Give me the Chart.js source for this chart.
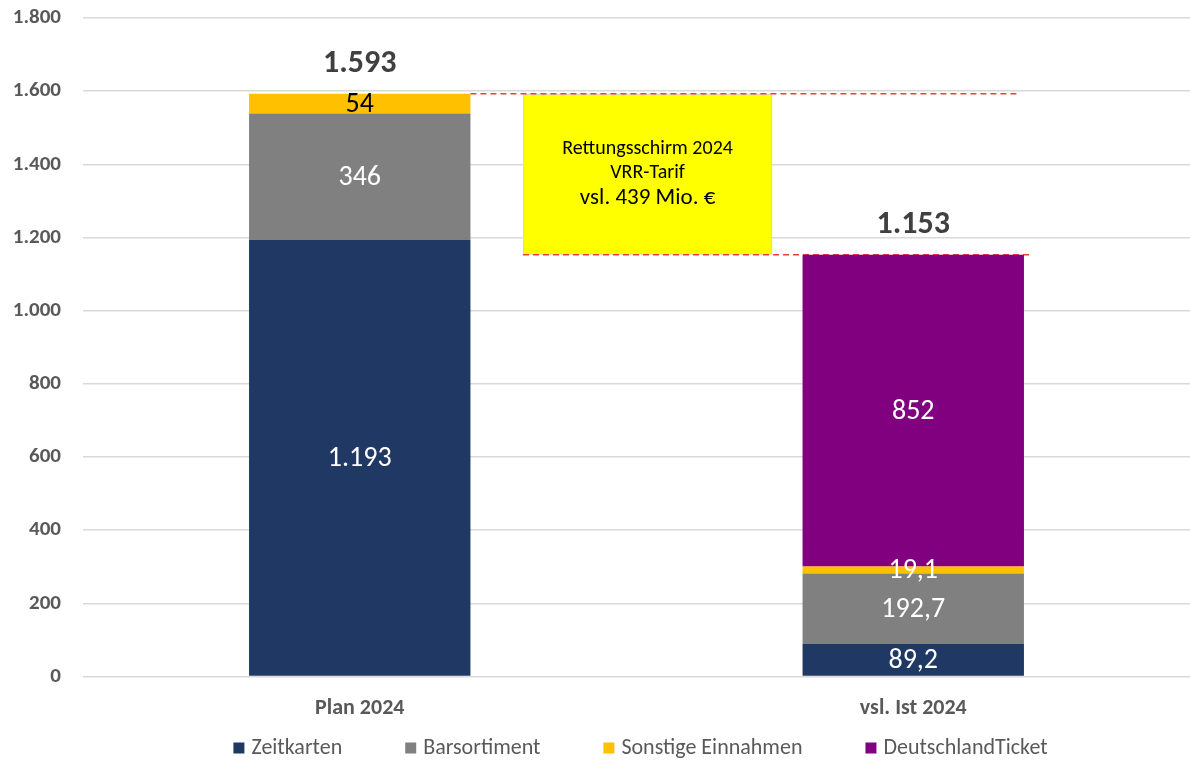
<!DOCTYPE html>
<html>
<head>
<meta charset="utf-8">
<script src="https://cdn.jsdelivr.net/npm/chart.js@4"></script>
<style>
    html, body { margin: 0; padding: 0; background: #ffffff; }
    #container { width: 1190px; height: 761px; }
</style>
</head>
<body>
<div id="container"><canvas id="canvas"></canvas></div>
<script>
    // Werte in Mio. €
    const aCategories = ["Plan 2024", "vsl. Ist 2024"];
    const aZeitkarten = [1193, 89.2];
    const aBarsortiment = [346, 192.7];
    const aSonstige = [54, 19.1];
    const aDeutschlandTicket = [null, 852];
    const aTotals = [1593, 1153];
    const aYTicks = [0, 200, 400, 600, 800, 1000, 1200, 1400, 1600, 1800];
    const aBoxText = ["Rettungsschirm 2024", "VRR-Tarif", "vsl. 439 Mio. €"];

    const sFont = "Carlito, Calibri, Lato, 'Open Sans', sans-serif";

    // Zahl im deutschen Format (1.193 / 89,2)
    function fmt(v) {
        let sInt = String(Math.trunc(v)).replace(/\B(?=(\d{3})+(?!\d))/g, ".");
        let fDec = Math.round((v - Math.trunc(v)) * 10);
        return fDec ? sInt + "," + fDec : sInt;
    }

    // Beschriftungen, Summen, Rettungsschirm-Kasten und Legende
    const oLabelPlugin = {
        id: "labels",
        beforeDatasetsDraw(chart) {
            const ctx = chart.ctx;
            const x = chart.scales.x;
            const y = chart.scales.y;
            let yTop = y.getPixelForValue(aTotals[0]);
            let yBottom = y.getPixelForValue(aTotals[1]);
            let xLeft = x.getPixelForValue(0.295);
            let xRight = x.getPixelForValue(0.745);

            ctx.save();
            ctx.fillStyle = "#ffff00";
            ctx.fillRect(xLeft, yTop, xRight - xLeft, yBottom - yTop);
            ctx.strokeStyle = "#d6d6d6";
            ctx.lineWidth = 1;
            ctx.strokeRect(xLeft + 0.5, yTop + 0.5, xRight - xLeft - 1, yBottom - yTop - 1);

            ctx.fillStyle = "#000000";
            ctx.textAlign = "center";
            ctx.textBaseline = "middle";
            let xMid = (xLeft + xRight) / 2;
            ctx.font = "20px " + sFont;
            ctx.fillText(aBoxText[0], xMid, yTop + 55);
            ctx.fillText(aBoxText[1], xMid, yTop + 79);
            ctx.font = "23px " + sFont;
            ctx.fillText(aBoxText[2], xMid, yTop + 105);

            // gestrichelte Linien
            ctx.strokeStyle = "#e8403a";
            ctx.lineWidth = 1.5;
            ctx.setLineDash([6, 4]);
            ctx.beginPath();
            ctx.moveTo(x.getPixelForValue(0.2), yTop);
            ctx.lineTo(x.getPixelForValue(1.19), yTop);
            ctx.moveTo(xLeft, yBottom);
            ctx.lineTo(x.getPixelForValue(1.21), yBottom);
            ctx.stroke();
            ctx.restore();
        },
        afterDatasetsDraw(chart) {
            const ctx = chart.ctx;
            ctx.save();
            ctx.textAlign = "center";
            ctx.textBaseline = "middle";
            chart.data.datasets.forEach(function (oDs, i) {
                let oMeta = chart.getDatasetMeta(i);
                oMeta.data.forEach(function (oBar, j) {
                    let v = oDs.data[j];
                    if (v === null || v === undefined) {
                        return;
                    }
                    ctx.fillStyle = oDs.labelColors[j];
                    ctx.font = "28px " + sFont;
                    ctx.fillText(fmt(v), oBar.x, (oBar.y + oBar.base) / 2 + 1);
                });
            });

            // Summen
            const x = chart.scales.x;
            const y = chart.scales.y;
            ctx.fillStyle = "#404040";
            ctx.font = "bold 32px " + sFont;
            aTotals.forEach(function (v, j) {
                ctx.fillText(fmt(v), x.getPixelForValue(j), y.getPixelForValue(v) - 30);
            });
            ctx.restore();
        },
        afterDraw(chart) {
            // Legende unten
            const ctx = chart.ctx;
            const iBox = 11;
            const iGap = 7;
            const iSpace = 63;
            ctx.save();
            ctx.font = "22px " + sFont;
            ctx.textBaseline = "middle";
            ctx.textAlign = "left";
            let aWidths = chart.data.datasets.map(oDs => ctx.measureText(oDs.label).width);
            let iTotal = aWidths.reduce((a, b) => a + b, 0) + chart.data.datasets.length * (iBox + iGap) + (chart.data.datasets.length - 1) * iSpace;
            let xPos = (chart.chartArea.left + chart.chartArea.right) / 2 + 4 - iTotal / 2;
            let yPos = 748;
            chart.data.datasets.forEach(function (oDs, i) {
                ctx.fillStyle = oDs.backgroundColor;
                ctx.fillRect(xPos, yPos - iBox / 2, iBox, iBox);
                ctx.fillStyle = "#595959";
                ctx.fillText(oDs.label, xPos + iBox + iGap, yPos);
                xPos += iBox + iGap + aWidths[i] + iSpace;
            });
            ctx.restore();
        }
    };

    const ctx = document.getElementById("canvas").getContext("2d");

    new Chart(ctx, {
        type: "bar",
        data: {
            labels: aCategories,
            datasets: [
                {
                    label: "Zeitkarten",
                    data: aZeitkarten,
                    backgroundColor: "#203864",
                    labelColors: ["#ffffff", "#ffffff"]
                },
                {
                    label: "Barsortiment",
                    data: aBarsortiment,
                    backgroundColor: "#808080",
                    labelColors: ["#ffffff", "#ffffff"]
                },
                {
                    label: "Sonstige Einnahmen",
                    data: aSonstige,
                    backgroundColor: "#ffc000",
                    labelColors: ["#000000", "#ffffff"]
                },
                {
                    label: "DeutschlandTicket",
                    data: aDeutschlandTicket,
                    backgroundColor: "#800080",
                    labelColors: ["#ffffff", "#ffffff"]
                }
            ]
        },
        options: {
            responsive: true,
            maintainAspectRatio: false,
            devicePixelRatio: 1,
            animation: false,
            datasets: {
                bar: {
                    categoryPercentage: 1,
                    barPercentage: 0.4,
                    borderWidth: 0
                }
            },
            layout: {
                padding: { top: 0, right: 0, bottom: 28, left: 0 }
            },
            plugins: {
                tooltip: { enabled: false },
                legend: { display: false }
            },
            scales: {
                x: {
                    stacked: true,
                    grid: { display: false },
                    border: { display: false },
                    ticks: {
                        color: "#595959",
                        padding: 11,
                        font: { size: 22, weight: "bold", family: sFont }
                    }
                },
                y: {
                    stacked: true,
                    min: 0,
                    max: 1800,
                    afterBuildTicks: function (scale) {
                        scale.ticks = aYTicks.map(v => ({ value: v }));
                    },
                    afterFit: function (scale) {
                        scale.width = 83;
                        scale.paddingTop = 18;
                    },
                    grid: {
                        color: "#d9d9d9",
                        lineWidth: 1.5,
                        drawTicks: false
                    },
                    border: { display: false },
                    ticks: {
                        color: "#595959",
                        padding: 22,
                        font: { size: 21, weight: "bold", family: sFont },
                        callback: function (value) {
                            return fmt(value);
                        }
                    }
                }
            }
        },
        plugins: [oLabelPlugin]
    });
</script>
</body>
</html>
